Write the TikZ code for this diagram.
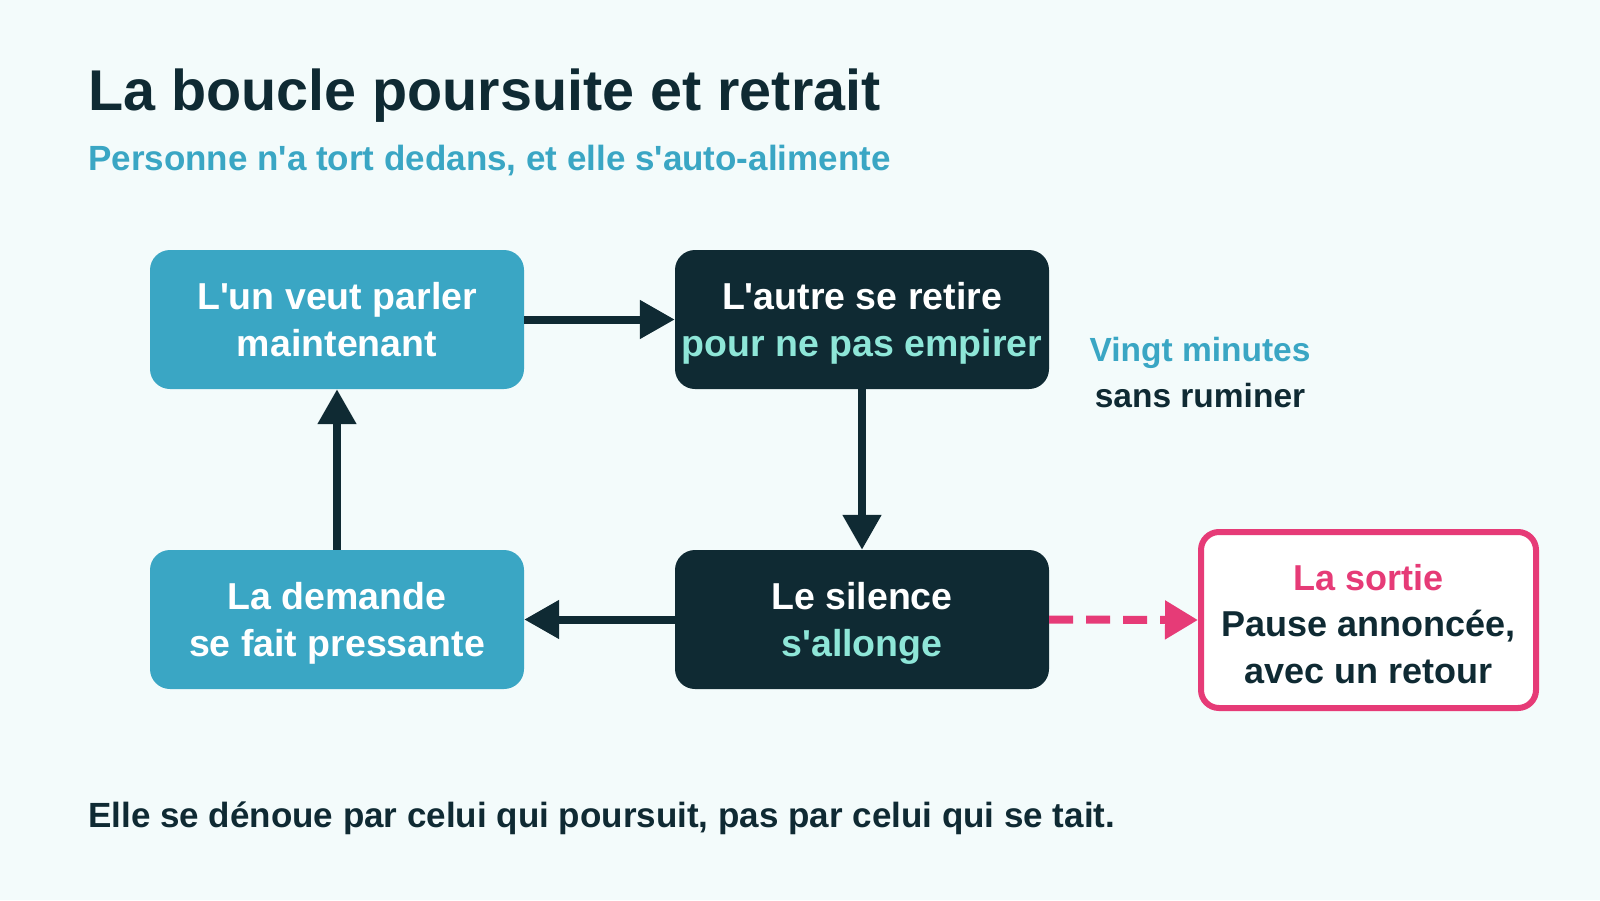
\documentclass[tikz,border=0pt]{standalone}
\usepackage{fontspec}
\setmainfont{Liberation Sans}
\newfontfamily\lib{Liberation Sans}
\usetikzlibrary{arrows.meta}
\definecolor{bg}{HTML}{F3FBFB}
\definecolor{teal}{HTML}{3AA6C4}
\definecolor{dark}{HTML}{0F2A33}
\definecolor{mint}{HTML}{8EE6D8}
\definecolor{pink}{HTML}{E63B77}
\tikzset{
  boxbase/.style={rounded corners=20pt, minimum width=374pt, minimum height=139pt, inner sep=0pt, align=center, text=white, font=\lib\fontsize{37.5}{47}\selectfont\bfseries},
  tealbox/.style={boxbase, fill=teal},
  darkbox/.style={boxbase, fill=dark},
  exitbox/.style={rounded corners=18pt, draw=pink, line width=6pt, fill=white, minimum width=335pt, minimum height=176pt, inner sep=0pt, align=center, text=dark, font=\lib\fontsize{36}{46.5}\selectfont\bfseries},
  flow/.style={draw=dark, line width=8pt, -{Triangle[length=35pt,width=37pt]}},
  exitflow/.style={draw=pink, line width=8pt, dash pattern=on 24pt off 13pt, -{Triangle[length=33pt,width=37pt]}},
}
\begin{document}
\begin{tikzpicture}[x=1pt,y=-1pt]
\useasboundingbox (0,0) rectangle (1600,900);
\fill[bg] (0,0) rectangle (1600,900);
\node[anchor=base west, inner sep=0pt, text=dark, font=\lib\fontsize{57.5}{68}\selectfont\bfseries] (title) at (88,110) {La boucle poursuite et retrait};
\node[anchor=base west, inner sep=0pt, text=teal, font=\lib\fontsize{35}{42}\selectfont\bfseries] (subtitle) at (88,170) {Personne n'a tort dedans, et elle s'auto-alimente};
\node[tealbox] (b1) at (337,319.5) {L'un veut parler\\\smash{maintenant}};
\node[darkbox] (b2) at (862,319.5) {L'autre se retire\\\smash{\color{mint}pour ne pas empirer}};
\node[tealbox] (b3) at (337,619.5) {La demande\\\smash{se fait pressante}};
\node[darkbox] (b4) at (862,619.5) {Le silence\\\smash{\color{mint}s'allonge}};
\node[exitbox] (exit) at (1368.5,620) {\rule{0pt}{34pt}{\color{pink}La sortie}\\Pause annoncée,\\avec un retour};
\node[align=center, inner sep=0pt, text=dark, font=\lib\fontsize{33.5}{46}\selectfont\bfseries] (note) at (1200,373) {{\color{teal}Vingt minutes}\\sans ruminer};
\node[anchor=base west, inner sep=0pt, text=dark, font=\lib\fontsize{35}{42}\selectfont\bfseries] (footer) at (88,827) {Elle se dénoue par celui qui poursuit, pas par celui qui se tait.};
\draw[flow] (b1.east) -- (b2.west);
\draw[flow] (b2.south) -- (b4.north);
\draw[flow] (b4.west) -- (b3.east);
\draw[flow] (b3.north) -- (b1.south);
\draw[exitflow] (b4.east) -- (exit.west);
\end{tikzpicture}
\end{document}
